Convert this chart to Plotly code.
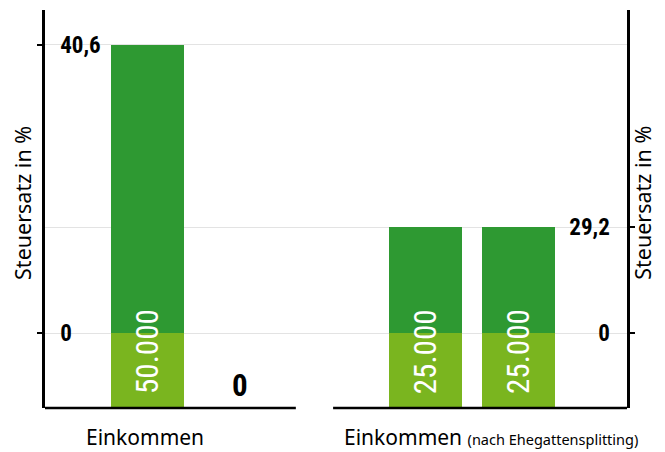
import plotly.graph_objects as go

# slots on the x axis: left panel (single earner), right panel (splitting)
slots = [0, 1, 3, 4]
incomes = [50000, 0, 25000, 25000]
income_labels = ["50.000", "0", "25.000", "25.000"]

tax_left = 40.6
tax_right = 29.2
left_tick_labels = ["0", "40,6"]
right_tick_labels = ["0", "29,2"]

panel_labels = ["Einkommen", "Einkommen"]
panel_note = "(nach Ehegattensplitting)"
axis_title = "Steuersatz in %"

DARK = "#2e9932"
LIGHT = "#7ab51f"
NARROW = "Roboto Condensed, DejaVu Sans Condensed, sans-serif"
SANS = "Noto Sans, Open Sans, sans-serif"

# schematic depth of the income block below zero (left axis units)
INCOME_DEPTH = 10.57

fig = go.Figure()

# income blocks (light green), only where there is income
inc_x = [s for s, v in zip(slots, incomes) if v > 0]
fig.add_trace(go.Bar(
    x=inc_x, y=[-INCOME_DEPTH] * len(inc_x),
    width=0.787, marker=dict(color=LIGHT, line=dict(width=0)),
    hoverinfo="skip", showlegend=False,
))

# tax rate bars (dark green)
fig.add_trace(go.Bar(
    x=[slots[0]], y=[tax_left], width=0.787,
    marker=dict(color=DARK, line=dict(width=0)),
    showlegend=False,
))
fig.add_trace(go.Bar(
    x=slots[2:], y=[tax_right, tax_right], width=0.787, yaxis="y2",
    marker=dict(color=DARK, line=dict(width=0)),
    showlegend=False,
))

# income labels
for s, v, lab in zip(slots, incomes, income_labels):
    if v > 0:
        fig.add_annotation(x=s, y=-2.6, xref="x", yref="y", text=lab,
                           textangle=-90, showarrow=False,
                           xanchor="center", yanchor="middle",
                           font=dict(family=NARROW, size=31, color="white"))
    else:
        fig.add_annotation(x=s, y=-7.4, xref="x", yref="y", text=lab,
                           showarrow=False, xanchor="center", yanchor="middle",
                           font=dict(family=NARROW, size=31, color="black",
                                     weight="bold"))

# axis titles
for xp in (-0.039, 1.026):
    fig.add_annotation(x=xp, y=0.516, xref="paper", yref="paper",
                       text=axis_title, textangle=-90, showarrow=False,
                       xanchor="center", yanchor="middle",
                       font=dict(family=SANS, size=21.5, color="black"))

# bottom labels
fig.add_annotation(x=0.171, y=-0.074, xref="paper", yref="paper",
                   xanchor="center", yanchor="middle",
                   text=panel_labels[0], showarrow=False,
                   font=dict(family=SANS, size=21, color="black"))
fig.add_annotation(x=0.511, y=-0.074, xref="paper", yref="paper",
                   xanchor="left", yanchor="middle",
                   text=panel_labels[1] + " <span style='font-size:14.5px'>" + panel_note + "</span>",
                   showarrow=False,
                   font=dict(family=SANS, size=21, color="black"))

# bottom axis lines with a gap between the panels
for x0, x1 in [(0, 0.431), (0.495, 1)]:
    fig.add_shape(type="line", xref="paper", yref="paper",
                  x0=x0, x1=x1, y0=0, y1=0,
                  line=dict(color="black", width=2.5))

tick_font = dict(family=NARROW, size=23, color="black", weight="bold")
fig.update_layout(
    width=665, height=452,
    margin=dict(l=45, r=38, t=10, b=44),
    plot_bgcolor="white", paper_bgcolor="white",
    barmode="overlay", bargap=0,
    xaxis=dict(range=[-1.105, 5.17], showticklabels=False, ticks="",
               showgrid=False, zeroline=False, showline=False, fixedrange=True),
    yaxis=dict(range=[-INCOME_DEPTH, 45.53], tickvals=[0, tax_left],
               ticktext=left_tick_labels, ticks="outside", ticklen=5,
               tickwidth=2, tickcolor="black", ticklabelposition="inside",
               ticklabelstandoff=17, tickfont=tick_font,
               showline=True, linecolor="black", linewidth=2.5,
               showgrid=True, gridcolor="#e3e3e3", gridwidth=1, zeroline=False),
    yaxis2=dict(range=[-20.66, 88.98], tickvals=[0, tax_right],
                ticktext=right_tick_labels, overlaying="y", side="right",
                ticks="outside", ticklen=5, tickwidth=2, tickcolor="black",
                ticklabelposition="inside", ticklabelstandoff=19,
                tickfont=tick_font,
                showline=True, linecolor="black", linewidth=2.5,
                showgrid=True, gridcolor="#e3e3e3", gridwidth=1, zeroline=False),
)

fig.write_html("out.html", config={"displayModeBar": False},
               post_script="document.body.style.margin='0';")
